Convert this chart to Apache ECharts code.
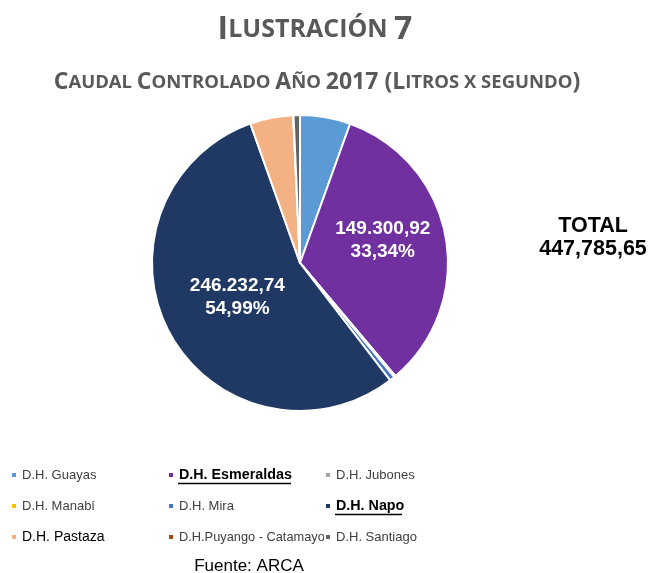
<!DOCTYPE html>
<html>
<head>
<meta charset="utf-8">
<script src="https://cdn.jsdelivr.net/npm/echarts@6/dist/echarts.min.js"></script>
<style>
  html, body { margin: 0; padding: 0; background: #fff; }
  #chart { width: 650px; height: 573px; }
</style>
</head>
<body>
<div id="chart"></div>
<script>
const names = ['D.H. Guayas', 'D.H. Esmeraldas', 'D.H. Jubones', 'D.H. Manabí', 'D.H. Mira',
  'D.H. Napo', 'D.H. Pastaza', 'D.H.Puyango - Catamayo', 'D.H. Santiago'];
const values = [24628, 149300.92, 300, 500, 2463, 246232.74, 21046, 180, 3134];
const colors = ['#5B9BD5', '#7030A0', '#A5A5A5', '#FFC000', '#4472C4',
  '#203864', '#F4B183', '#9E480E', '#636363'];
const labelTexts = { 'D.H. Esmeraldas': '149.300,92\n33,34%', 'D.H. Napo': '246.232,74\n54,99%' };
const labelOffsets = { 'D.H. Esmeraldas': [7, -9], 'D.H. Napo': [5, -3] };
const legendCols = [
  ['D.H. Guayas', 'D.H. Manabí', 'D.H. Pastaza'],
  ['D.H. Esmeraldas', 'D.H. Mira', 'D.H.Puyango - Catamayo'],
  ['D.H. Jubones', 'D.H. Napo', 'D.H. Santiago']
];
const legendX = [10, 167, 324];

const chart = echarts.init(document.getElementById('chart'));

const font = '"Liberation Sans", Arial, sans-serif';
const capsFont = '"Open Sans", "Noto Sans", sans-serif';

const pieData = names.map((n, i) => ({
  name: n,
  value: values[i],
  itemStyle: { color: colors[i] },
  label: labelTexts[n] ? { show: true, offset: labelOffsets[n] } : { show: false }
}));

// formato de leyenda: negrita para Esmeraldas y Napo, Pastaza más grande
function legendFmt(name) {
  if (name === 'D.H. Esmeraldas' || name === 'D.H. Napo') return '{b|' + name + '}';
  if (name === 'D.H. Pastaza') return '{p|' + name + '}';
  if (name === 'D.H.Puyango - Catamayo') return '{s|' + name + '}';
  return '{n|' + name + '}';
}

const legends = legendCols.map((col, i) => ({
  data: col,
  orient: 'vertical',
  left: legendX[i],
  top: 467,
  padding: 0,
  itemGap: 15,
  itemWidth: 6,
  itemHeight: 6,
  icon: 'rect',
  selectedMode: false,
  formatter: legendFmt,
  textStyle: {
    fontFamily: font,
    lineHeight: 16,
    rich: {
      n: { fontFamily: font, fontSize: 13, color: '#404040', lineHeight: 16 },
      s: { fontFamily: font, fontSize: 12.8, color: '#404040', lineHeight: 16 },
      b: { fontFamily: font, fontSize: 14.3, fontWeight: 'bold', color: '#000', lineHeight: 16 },
      p: { fontFamily: font, fontSize: 14, color: '#000', lineHeight: 16 }
    }
  }
}));

const option = {
  animation: false,
  title: [
    {
      text: '{a|I}{b|LUSTRACIÓN }{a|7}',
      left: 310, top: 9, textAlign: 'center',
      textStyle: {
        rich: {
          a: { fontFamily: capsFont, fontSize: 32, fontWeight: 'bold', color: '#595959' },
          b: { fontFamily: capsFont, fontSize: 25, fontWeight: 'bold', color: '#595959' }
        }
      }
    },
    {
      text: '{a|C}{b|AUDAL }{a|C}{b|ONTROLADO }{a|A}{b|ÑO }{a|2017 (L}{b|ITROS X SEGUNDO}{a|)}',
      left: 312, top: 66, textAlign: 'center',
      textStyle: {
        rich: {
          a: { fontFamily: capsFont, fontSize: 23, fontWeight: 'bold', color: '#595959' },
          b: { fontFamily: capsFont, fontSize: 18.5, fontWeight: 'bold', color: '#595959' }
        }
      }
    }
  ],
  legend: legends,
  series: [{
    type: 'pie',
    center: [300, 263],
    radius: 148,
    startAngle: 90,
    clockwise: true,
    avoidLabelOverlap: false,
    itemStyle: { borderColor: '#fff', borderWidth: 2 },
    label: {
      position: 'inside',
      formatter: p => labelTexts[p.name] || '',
      color: '#fff',
      fontFamily: font,
      fontSize: 19,
      fontWeight: 'bold',
      lineHeight: 23,
      align: 'center'
    },
    labelLine: { show: false },
    emphasis: { disabled: true },
    data: pieData
  }],
  graphic: [
    {
      type: 'text', x: 593, y: 215,
      style: {
        text: 'TOTAL\n447,785,65', align: 'center',
        font: 'bold 21.5px ' + font, fill: '#000', lineHeight: 23
      }
    },
    {
      type: 'text', x: 249, y: 558,
      style: { text: 'Fuente: ARCA', align: 'center', font: '17px ' + font, fill: '#000' }
    },
    // subrayado de Esmeraldas y Napo
    { type: 'line', shape: { x1: 178, y1: 483.5, x2: 291, y2: 483.5 }, style: { stroke: '#000', lineWidth: 1.5 } },
    { type: 'line', shape: { x1: 335, y1: 514.5, x2: 402, y2: 514.5 }, style: { stroke: '#000', lineWidth: 1.5 } }
  ]
};

chart.setOption(option);
</script>
</body>
</html>
